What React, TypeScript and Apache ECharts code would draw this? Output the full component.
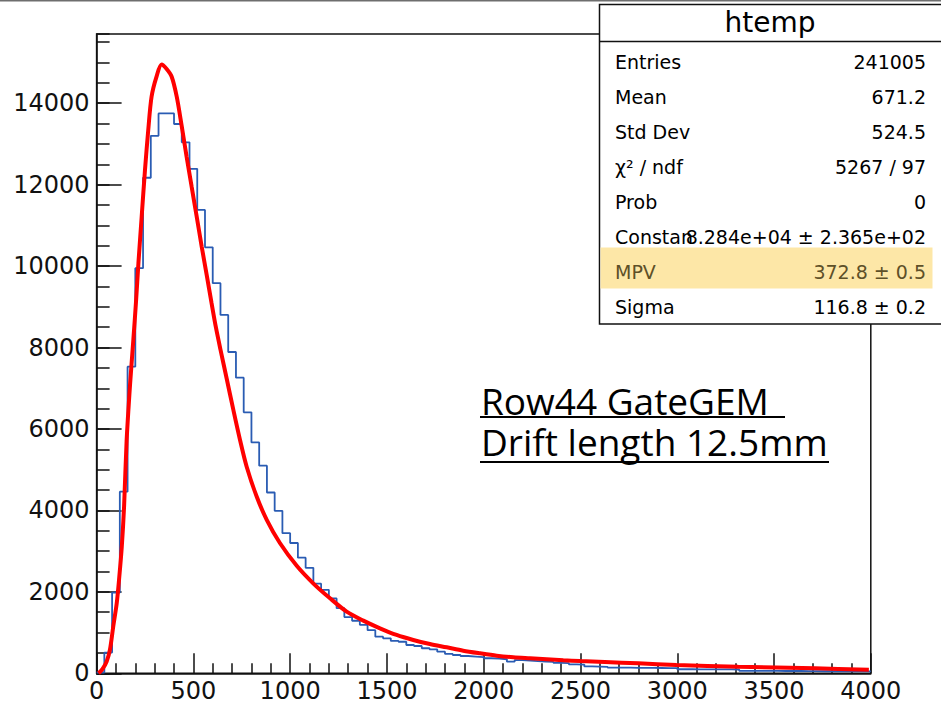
import React, { useEffect, useRef } from "react";
import * as echarts from "echarts";

// Histogram: 100 bins of width 40 from 0 to 4000 (counts)
const BIN_WIDTH = 40;
const binCounts = [
  20, 510, 1980, 4460, 7530, 9950, 12170, 13200, 13750, 13750,
  13490, 13040, 12390, 11380, 10460, 9580, 8800, 7890, 7260, 6410,
  5670, 5100, 4440, 3990, 3440, 3200, 2840, 2590, 2200, 2050,
  1840, 1600, 1380, 1290, 1190, 1060, 900, 860, 795, 775,
  695, 670, 615, 590, 530, 475, 450, 425, 410, 395,
  370, 360, 345, 285, 325, 310, 300, 290, 280, 258,
  252, 220, 215, 170, 165, 160, 140, 138, 137, 135,
  133, 132, 130, 128, 125, 100, 99, 98, 97, 96,
  95, 94, 93, 60, 60, 59, 58, 58, 57, 56,
  56, 55, 55, 50, 50, 49, 48, 48, 47, 45,
];

// Landau fit curve
const fitX = [
  10, 30, 52, 69, 86, 104, 116, 130, 142, 155, 173, 190, 204, 216, 233, 250, 267, 284,
  310, 336, 362, 388, 414, 440, 465, 491, 517, 543, 569, 594, 617, 640, 672, 706, 741,
  775, 827, 879, 947, 1034, 1119, 1206, 1292, 1378, 1464, 1550, 1636, 1722, 1809, 1894,
  1981, 2067, 2153, 2239, 2325, 2411, 2497, 2626, 2798, 2996, 3315, 3711, 3990,
];
const fitY = [
  0, 100, 290, 580, 1150, 1720, 2300, 3100, 4100, 5700, 7100, 8200, 9150, 10070, 11220, 12360, 13350, 14160,
  14660, 14950, 14840, 14650, 14160, 13430, 12690, 11950, 11220, 10480, 9780, 9090, 8480, 7950, 7240, 6480, 5730,
  5080, 4340, 3770, 3200, 2640, 2210, 1842, 1514, 1293, 1105, 941, 818, 720, 638, 556,
  491, 433, 393, 368, 344, 318, 300, 278, 245, 204, 163, 122, 90,
];

const X_MIN = 0;
const X_MAX = 4000;
const X_INTERVAL = 500;
const Y_MIN = 0;
const Y_MAX = 15700;
const Y_MAJOR = 2000;
const Y_MINOR = 500;

const statsTitle = "htemp";
const statsLabels = ["Entries", "Mean", "Std Dev", "χ² / ndf", "Prob", "Constan", "MPV", "Sigma"];
const statsValues = ["241005", "671.2", "524.5", "5267 / 97", "0", "8.284e+04 ± 2.365e+02", "372.8 ± 0.5", "116.8 ± 0.2"];
const highlightRow = 6;

const noteLines = ["Row44 GateGEM ", "Drift length 12.5mm"];

const FONT = "DejaVu Sans";

export default function App() {
  const ref = useRef<HTMLDivElement>(null);

  useEffect(() => {
    if (!ref.current) return;
    const chart = echarts.init(ref.current, undefined, { renderer: "svg" });

    const histData: [number, number][] = binCounts.map((v, i) => [i * BIN_WIDTH, v]);
    histData.push([X_MAX, binCounts[binCounts.length - 1]]);
    const fitData: [number, number][] = fitX.map((x, i) => [x, fitY[i]]);

    const graphics: any[] = [];
    graphics.push({
      type: "line",
      shape: { x1: 0, y1: 0.75, x2: 941, y2: 0.75 },
      style: { stroke: "#6e6e6e", lineWidth: 1.5 },
      z: 100,
    });
    // stats box
    graphics.push({
      type: "rect",
      shape: { x: 599.5, y: 4.5, width: 360, height: 319.5 },
      style: { fill: "#ffffff", stroke: "#111", lineWidth: 1.5 },
      z: 100,
    });
    graphics.push({
      type: "rect",
      shape: { x: 600.5, y: 247.5, width: 332, height: 41 },
      style: { fill: "#fde7a7" },
      z: 101,
    });
    graphics.push({
      type: "line",
      shape: { x1: 599.5, y1: 41.5, x2: 941, y2: 41.5 },
      style: { stroke: "#111", lineWidth: 1.5 },
      z: 101,
    });
    graphics.push({
      type: "text",
      x: 770,
      y: 22,
      style: {
        text: statsTitle,
        font: `28px "${FONT}"`,
        fill: "#000",
        align: "center",
        verticalAlign: "middle",
        lineHeight: 28,
      },
      z: 102,
    });
    statsLabels.forEach((lab, i) => {
      const y = 61.7 + 35.1 * i;
      const col = i === highlightRow ? "#5e5028" : "#000";
      graphics.push({
        type: "text",
        x: 615,
        y,
        style: { text: lab, font: `19px "${FONT}"`, fill: col, align: "left", verticalAlign: "middle", lineHeight: 20 },
        z: 102,
      });
      graphics.push({
        type: "text",
        x: 926,
        y,
        style: { text: statsValues[i], font: `19px "${FONT}"`, fill: col, align: "right", verticalAlign: "middle", lineHeight: 20 },
        z: 102,
      });
    });
    // annotation (one two-line text block, underlined per line)
    const underlineY = [417, 462];
    const underlineX2 = [785, 829];
    graphics.push({
      type: "text",
      x: 481,
      y: 380,
      style: {
        text: noteLines.join("\n"),
        font: `37px "Open Sans"`,
        fill: "#000",
        align: "left",
        verticalAlign: "top",
        lineHeight: 41,
      },
      z: 102,
    });
    noteLines.forEach((_, i) => {
      graphics.push({
        type: "line",
        shape: { x1: 480, y1: underlineY[i], x2: underlineX2[i], y2: underlineY[i] },
        style: { stroke: "#000", lineWidth: 2 },
        z: 102,
      });
    });

    const axisLineStyle = { color: "#111", width: 1.5 };

    chart.setOption({
      animation: false,
      backgroundColor: "#ffffff",
      grid: {
        left: 96.6,
        right: 70.2,
        top: 34,
        bottom: 30.7,
        show: true,
        borderColor: "#111",
        borderWidth: 1.5,
        backgroundColor: "transparent",
      },
      xAxis: {
        type: "value",
        min: X_MIN,
        max: X_MAX,
        interval: X_INTERVAL,
        axisLine: { show: true, lineStyle: axisLineStyle },
        axisTick: { show: true, inside: true, length: 20, lineStyle: axisLineStyle },
        minorTick: { show: true, splitNumber: 5, length: 10, lineStyle: axisLineStyle },
        splitLine: { show: false },
        minorSplitLine: { show: false },
        axisLabel: {
          show: true,
          margin: 6,
          color: "#111",
          fontFamily: FONT,
          fontSize: 24,
          formatter: (v: number) => String(v),
        },
      },
      yAxis: [
        {
          type: "value",
          position: "left",
          min: Y_MIN,
          max: Y_MAX,
          interval: Y_MAJOR,
          axisLine: { show: true, lineStyle: axisLineStyle },
          axisTick: { show: true, inside: true, length: 25, lineStyle: axisLineStyle },
          splitLine: { show: false },
          axisLabel: {
            show: true,
            margin: 7,
            color: "#111",
            fontFamily: FONT,
            fontSize: 24,
            showMaxLabel: false,
            formatter: (v: number) => (v % Y_MAJOR === 0 ? String(v) : ""),
          },
        },
        {
          type: "value",
          position: "left",
          offset: 0,
          min: Y_MIN,
          max: Y_MAX,
          interval: Y_MINOR,
          axisLine: { show: false },
          axisTick: { show: true, inside: true, length: 13, lineStyle: axisLineStyle },
          splitLine: { show: false },
          axisLabel: { show: false },
        },
      ],
      series: [
        {
          name: "htemp",
          type: "line",
          yAxisIndex: 0,
          step: "end",
          data: histData,
          showSymbol: false,
          symbol: "none",
          lineStyle: { color: "#2a5cb3", width: 1.8 },
          z: 2,
        },
        {
          name: "landau",
          type: "line",
          yAxisIndex: 0,
          data: fitData,
          smooth: 0.3,
          showSymbol: false,
          symbol: "none",
          lineStyle: { color: "#ff0000", width: 4 },
          z: 3,
        },
      ],
      graphic: { elements: graphics },
    });

    return () => chart.dispose();
  }, []);

  return (
    <div
      ref={ref}
      style={{ position: "absolute", left: 0, top: 0, width: 941, height: 704, background: "#fff" }}
    />
  );
}
